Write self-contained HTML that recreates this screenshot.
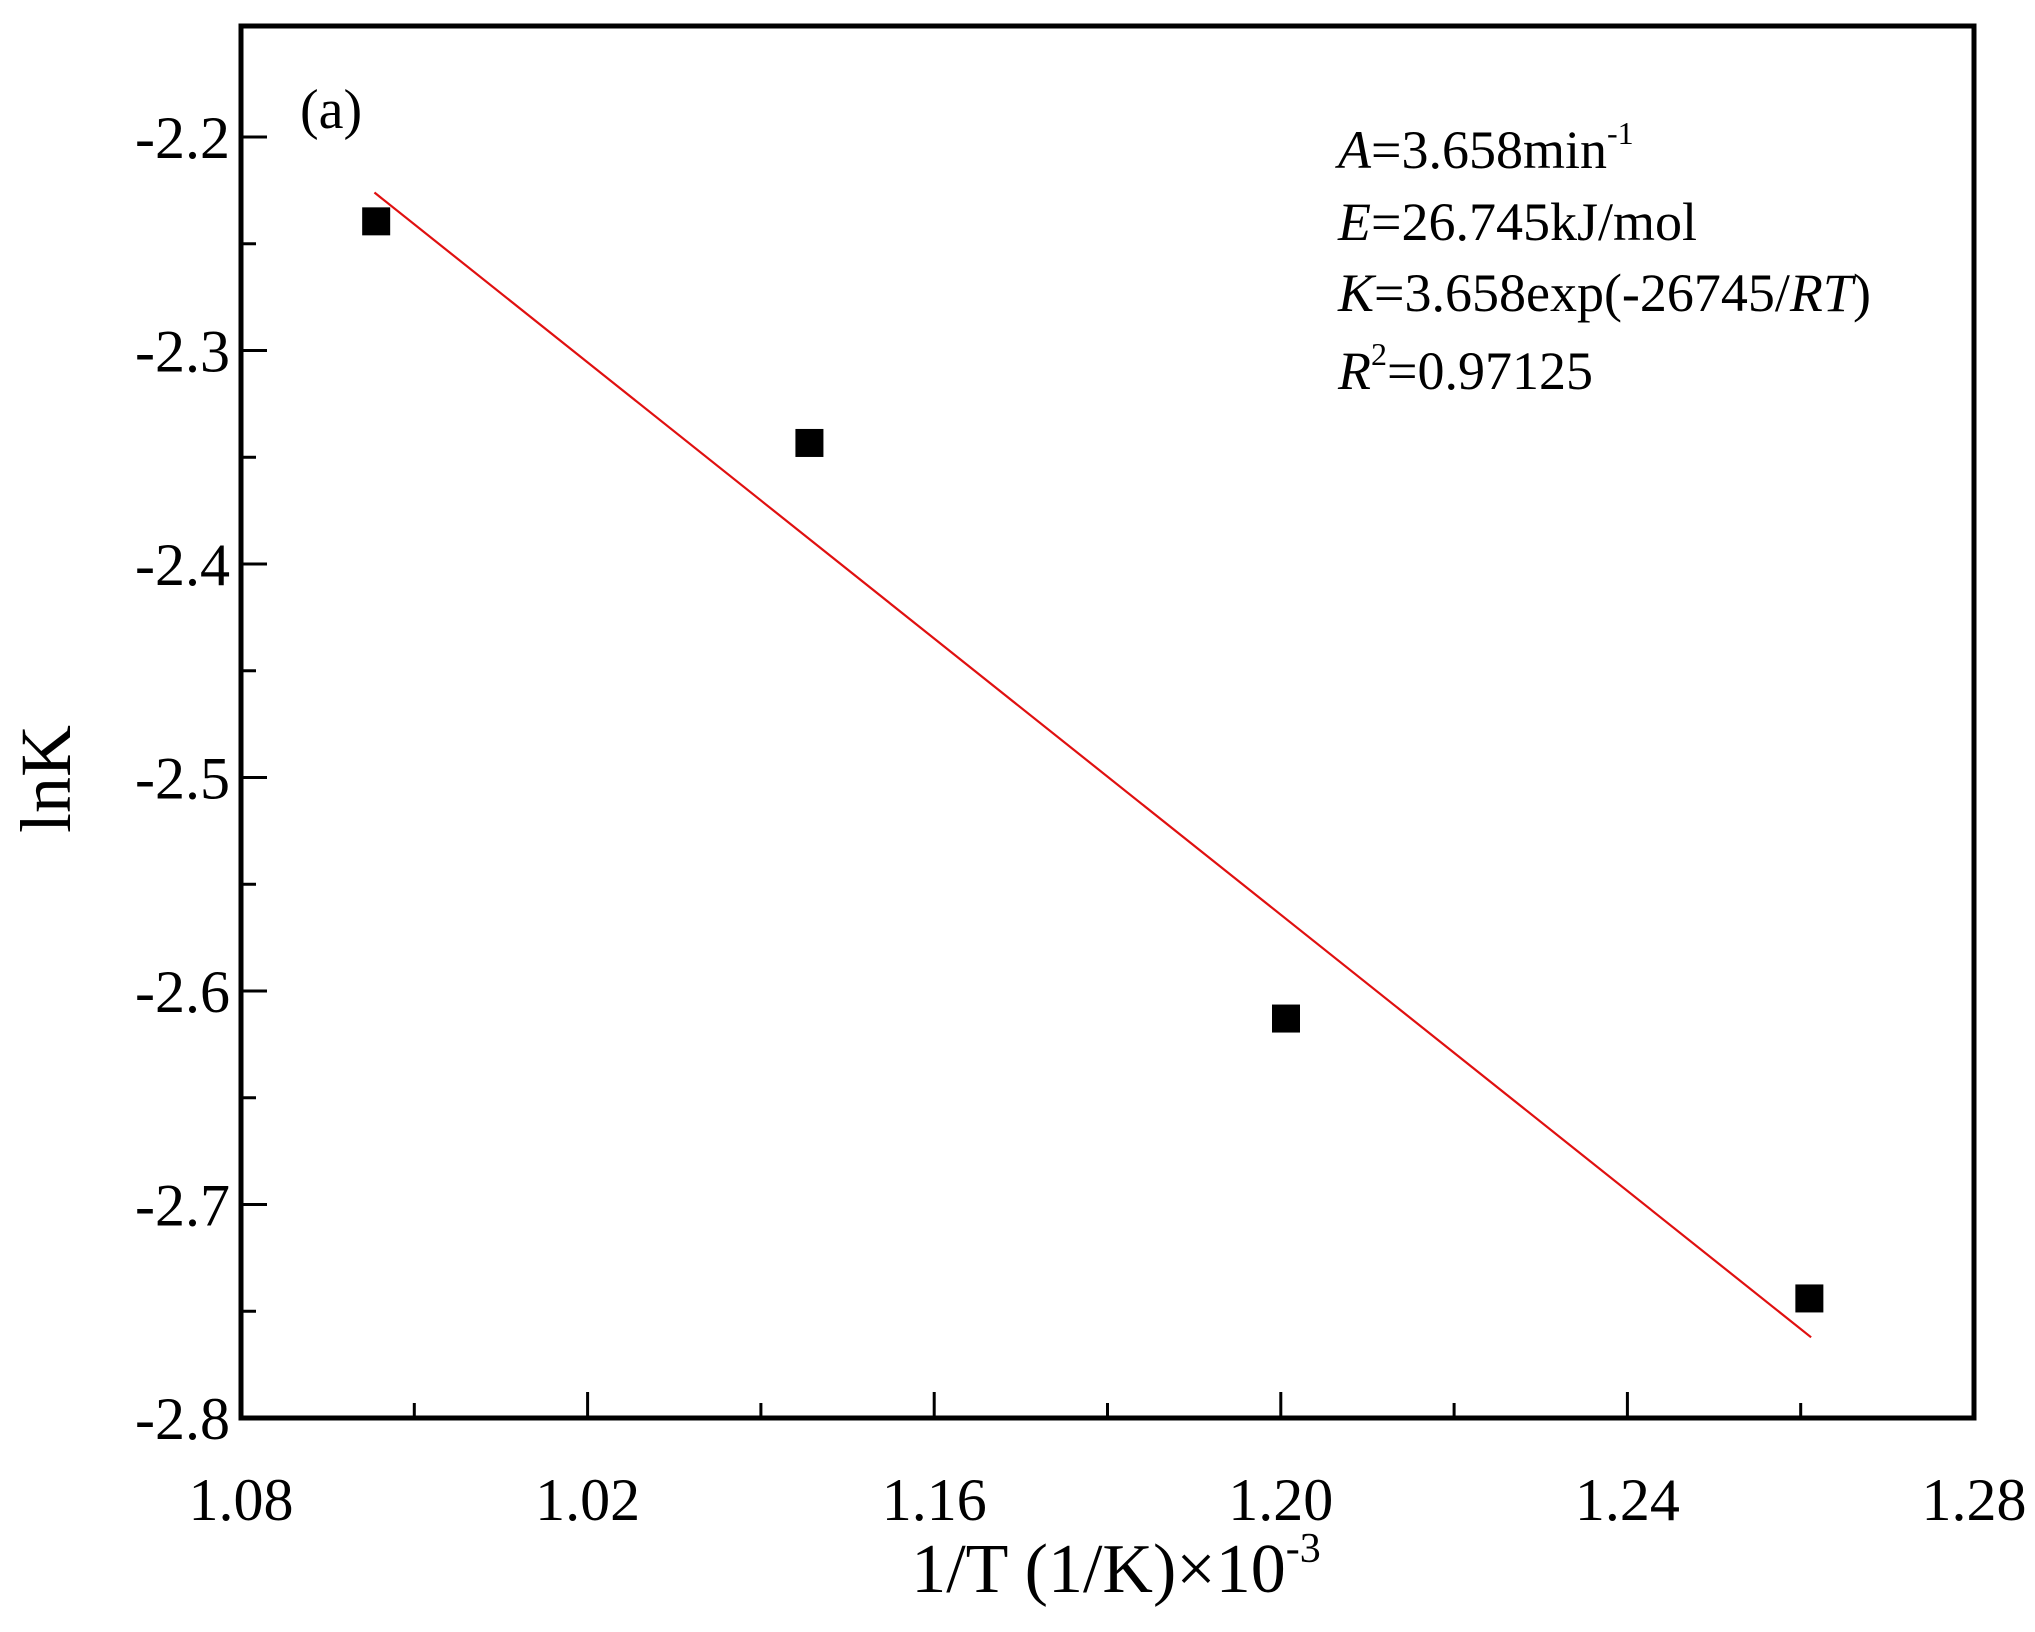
<!DOCTYPE html>
<html><head><meta charset="utf-8"><style>
html,body{margin:0;padding:0;background:#fff;}
svg{display:block;}
text,tspan{font-family:"Liberation Serif","DejaVu Serif",serif;}
</style></head><body>
<svg id="chart" width="2035" height="1632" viewBox="0 0 2035 1632" xmlns="http://www.w3.org/2000/svg">
<g id="plot"></g>
</svg>
<script>
const xTickValues = [1.08, 1.12, 1.16, 1.20, 1.24, 1.28];
const xTickLabels = ["1.08", "1.02", "1.16", "1.20", "1.24", "1.28"];
const yTickValues = [-2.2, -2.3, -2.4, -2.5, -2.6, -2.7, -2.8];
const yTickLabels = ["-2.2", "-2.3", "-2.4", "-2.5", "-2.6", "-2.7", "-2.8"];
const pointX = [1.0956, 1.1456, 1.2006, 1.2610];
const pointY = [-2.2395, -2.3433, -2.6129, -2.7440];
const fitX = [1.0954, 1.2612];
const fitY = [-2.2260, -2.7622];

const L = 241, R = 1974, T = 26, B = 1418;
const xMin = 1.08, xMax = 1.28, yMin = -2.8, yMax = -2.148;
const sx = v => L + (v - xMin) / (xMax - xMin) * (R - L);
const sy = v => B - (v - yMin) / (yMax - yMin) * (B - T);
const NS = "http://www.w3.org/2000/svg";
const g = document.getElementById("plot");
function mk(tag, attrs, parent) {
  const e = document.createElementNS(NS, tag);
  for (const k in attrs) e.setAttribute(k, attrs[k]);
  (parent || g).appendChild(e);
  return e;
}

const fit = mk("line", {x1: sx(fitX[0]), y1: sy(fitY[0]), x2: sx(fitX[1]), y2: sy(fitY[1]), stroke: "#e01010", "stroke-width": 2.2});



for (let i = 0; i < pointX.length; i++) {
  const s = 28;
  const p = mk("rect", {x: sx(pointX[i]) - s / 2, y: sy(pointY[i]) - s / 2, width: s, height: s, fill: "#000"});
  
  
}

const fr = mk("rect", {x: L, y: T, width: R - L, height: B - T, fill: "none", stroke: "#000", "stroke-width": 5});



for (let i = 0; i < xTickValues.length; i++) {
  const x = sx(xTickValues[i]);
  const t = mk("line", {x1: x, y1: B, x2: x, y2: B - 26, stroke: "#000", "stroke-width": 3});
  
  
  if (i < xTickValues.length - 1) {
    const xm = sx((xTickValues[i] + xTickValues[i + 1]) / 2);
    const m = mk("line", {x1: xm, y1: B, x2: xm, y2: B - 15, stroke: "#000", "stroke-width": 3});
    
    
  }
  const lb = mk("text", {x: x, y: 1520, "text-anchor": "middle", "font-size": 60});
  lb.textContent = xTickLabels[i];
  
  
}
for (let i = 0; i < yTickValues.length; i++) {
  const y = sy(yTickValues[i]);
  const t = mk("line", {x1: L, y1: y, x2: L + 26, y2: y, stroke: "#000", "stroke-width": 3});
  
  
  if (i < yTickValues.length - 1) {
    const ym = sy((yTickValues[i] + yTickValues[i + 1]) / 2);
    const m = mk("line", {x1: L, y1: ym, x2: L + 15, y2: ym, stroke: "#000", "stroke-width": 3});
    
    
  }
  const lb = mk("text", {x: 230, y: y + 21, "text-anchor": "end", "font-size": 60});
  lb.textContent = yTickLabels[i];
  
  
}
</script>
<svg style="position:absolute;left:0;top:0" width="2035" height="1632" xmlns="http://www.w3.org/2000/svg">
<g fill="#000">
<text x="1116" y="1592" text-anchor="middle" font-size="70">1/T (1/K)×10<tspan dy="-30" font-size="42">-3</tspan></text>
<text transform="translate(70,779) rotate(-90)" text-anchor="middle" font-size="72">lnK</text>
<text x="300" y="128" font-size="56">(a)</text>
<text x="1338" y="168" font-size="54"><tspan font-style="italic">A</tspan>=3.658min<tspan dy="-24" font-size="32">-1</tspan></text>
<text x="1338" y="240" font-size="54"><tspan font-style="italic">E</tspan>=26.745kJ/mol</text>
<text x="1338" y="311" font-size="54"><tspan font-style="italic">K</tspan>=3.658exp(-26745/<tspan font-style="italic">RT</tspan>)</text>
<text x="1338" y="389" font-size="54"><tspan font-style="italic">R</tspan><tspan dy="-24" font-size="32">2</tspan><tspan dy="24">=0.97125</tspan></text>
</g>
</svg>
</body></html>
